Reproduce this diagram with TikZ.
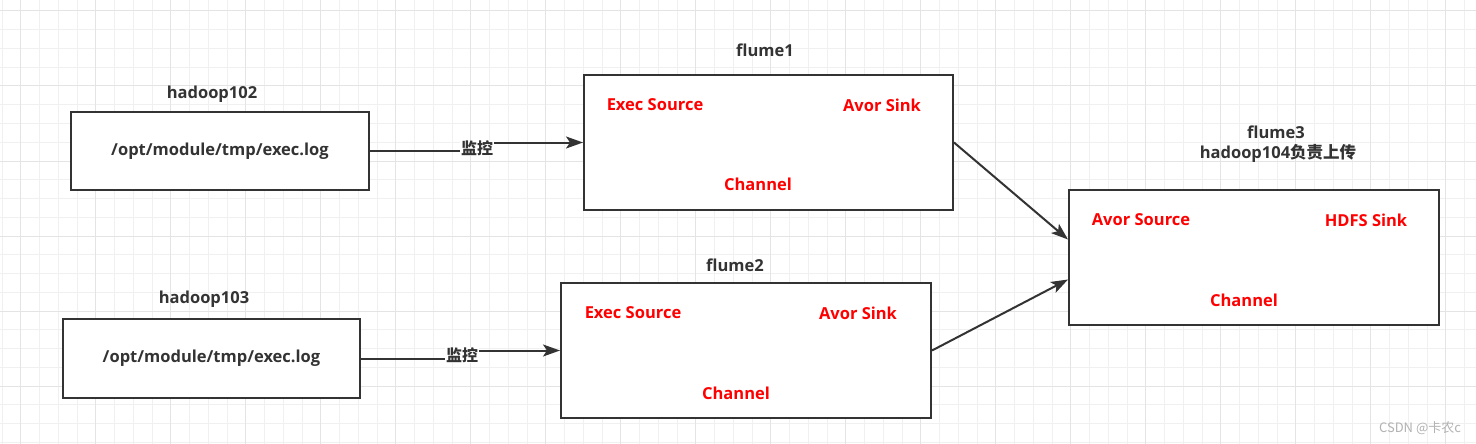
\documentclass[tikz,border=0pt]{standalone}
\usepackage{fontspec}
\setmainfont{Open Sans}
\newfontfamily\cjk{Noto Sans CJK SC}
\usetikzlibrary{arrows.meta}
\definecolor{linegray}{HTML}{333333}
\definecolor{gridminor}{HTML}{F0F0F0}
\definecolor{gridmajor}{HTML}{E4E4E4}
\definecolor{redtext}{HTML}{FF0000}

\begin{document}
\begin{tikzpicture}[x=1pt,y=-1pt,
    every node/.style={font=\fontsize{16.5}{19}\selectfont\bfseries, text=linegray},
    box/.style={draw=linegray, line width=2pt, rectangle, fill=white},
    part/.style={text=redtext},
    edge/.style={draw=linegray, line width=2pt, -{Stealth[length=17pt,width=12pt,inset=4pt]}},
    tag/.style={fill=white, inner sep=1pt, font=\fontsize{16}{18}\selectfont\cjk\bfseries}]
    \useasboundingbox (0,0) rectangle (1476,444);
    \fill[white] (0,0) rectangle (1476,444);
    % grid
    \foreach \i in {0,...,79} {
        \draw[gridminor, line width=1pt] ({2+18.75*\i},0) -- ({2+18.75*\i},444);
    }
    \foreach \i in {0,...,24} {
        \draw[gridminor, line width=1pt] (0,{11+18.75*\i}) -- (1476,{11+18.75*\i});
    }
    \foreach \i in {0,...,20} {
        \draw[gridmajor, line width=1pt] ({20.75+75*\i},0) -- ({20.75+75*\i},444);
    }
    \foreach \i in {0,...,6} {
        \draw[gridmajor, line width=1pt] (0,{11+75*\i}) -- (1476,{11+75*\i});
    }

    % sources
    \node[box, minimum width=298pt, minimum height=78pt] (h102) at (220,151) {/opt/module/tmp/exec.log};
    \node (h102t) at (212,94) {hadoop102};
    \node[box, minimum width=297pt, minimum height=79pt] (h103) at (211.5,358.5) {/opt/module/tmp/exec.log};
    \node (h103t) at (204,299) {hadoop103};

    % agents
    \node[box, minimum width=369pt, minimum height=135pt] (f1) at (768.5,142.5) {};
    \node (f1t) at (765,50) {flume1};
    \node[part] (f1src) at (655,105) {Exec Source};
    \node[part] (f1snk) at (882,105) {Avor Sink};
    \node[part] (f1ch) at (758,184) {Channel};

    \node[box, minimum width=370pt, minimum height=135pt] (f2) at (746,350.5) {};
    \node (f2t) at (735,265) {flume2};
    \node[part] (f2src) at (633,313) {Exec Source};
    \node[part] (f2snk) at (858,313) {Avor Sink};
    \node[part] (f2ch) at (736,393) {Channel};

    \node[box, minimum width=370pt, minimum height=135pt] (f3) at (1254,257.5) {};
    \node (f3t) at (1276,132) {flume3};
    \node (f3h) at (1278,153) {hadoop104{\cjk 负责上传}};
    \node[part] (f3src) at (1141,220) {Avor Source};
    \node[part] (f3snk) at (1366,220) {HDFS Sink};
    \node[part] (f3ch) at (1244,300) {Channel};

    % connectors
    \coordinate (m1) at (477,148);
    \coordinate (m2) at (462,355);
    \draw[edge] (h102.east) -| (m1) |- (f1.west);
    \draw[edge] (h103.east) -| (m2) |- (f2.west);
    \node[tag] at (m1) {监控};
    \node[tag] at (m2) {监控};
    \draw[edge] (f1.east) -- ([yshift=18pt]f3.west);
    \draw[edge] (f2.east) -- ([yshift=-22pt]f3.west);

    \node[font=\fontsize{13}{15}\selectfont\cjk, text=gray!60] (mark) at (1420,428) {CSDN @卡农c};
\end{tikzpicture}
\end{document}
